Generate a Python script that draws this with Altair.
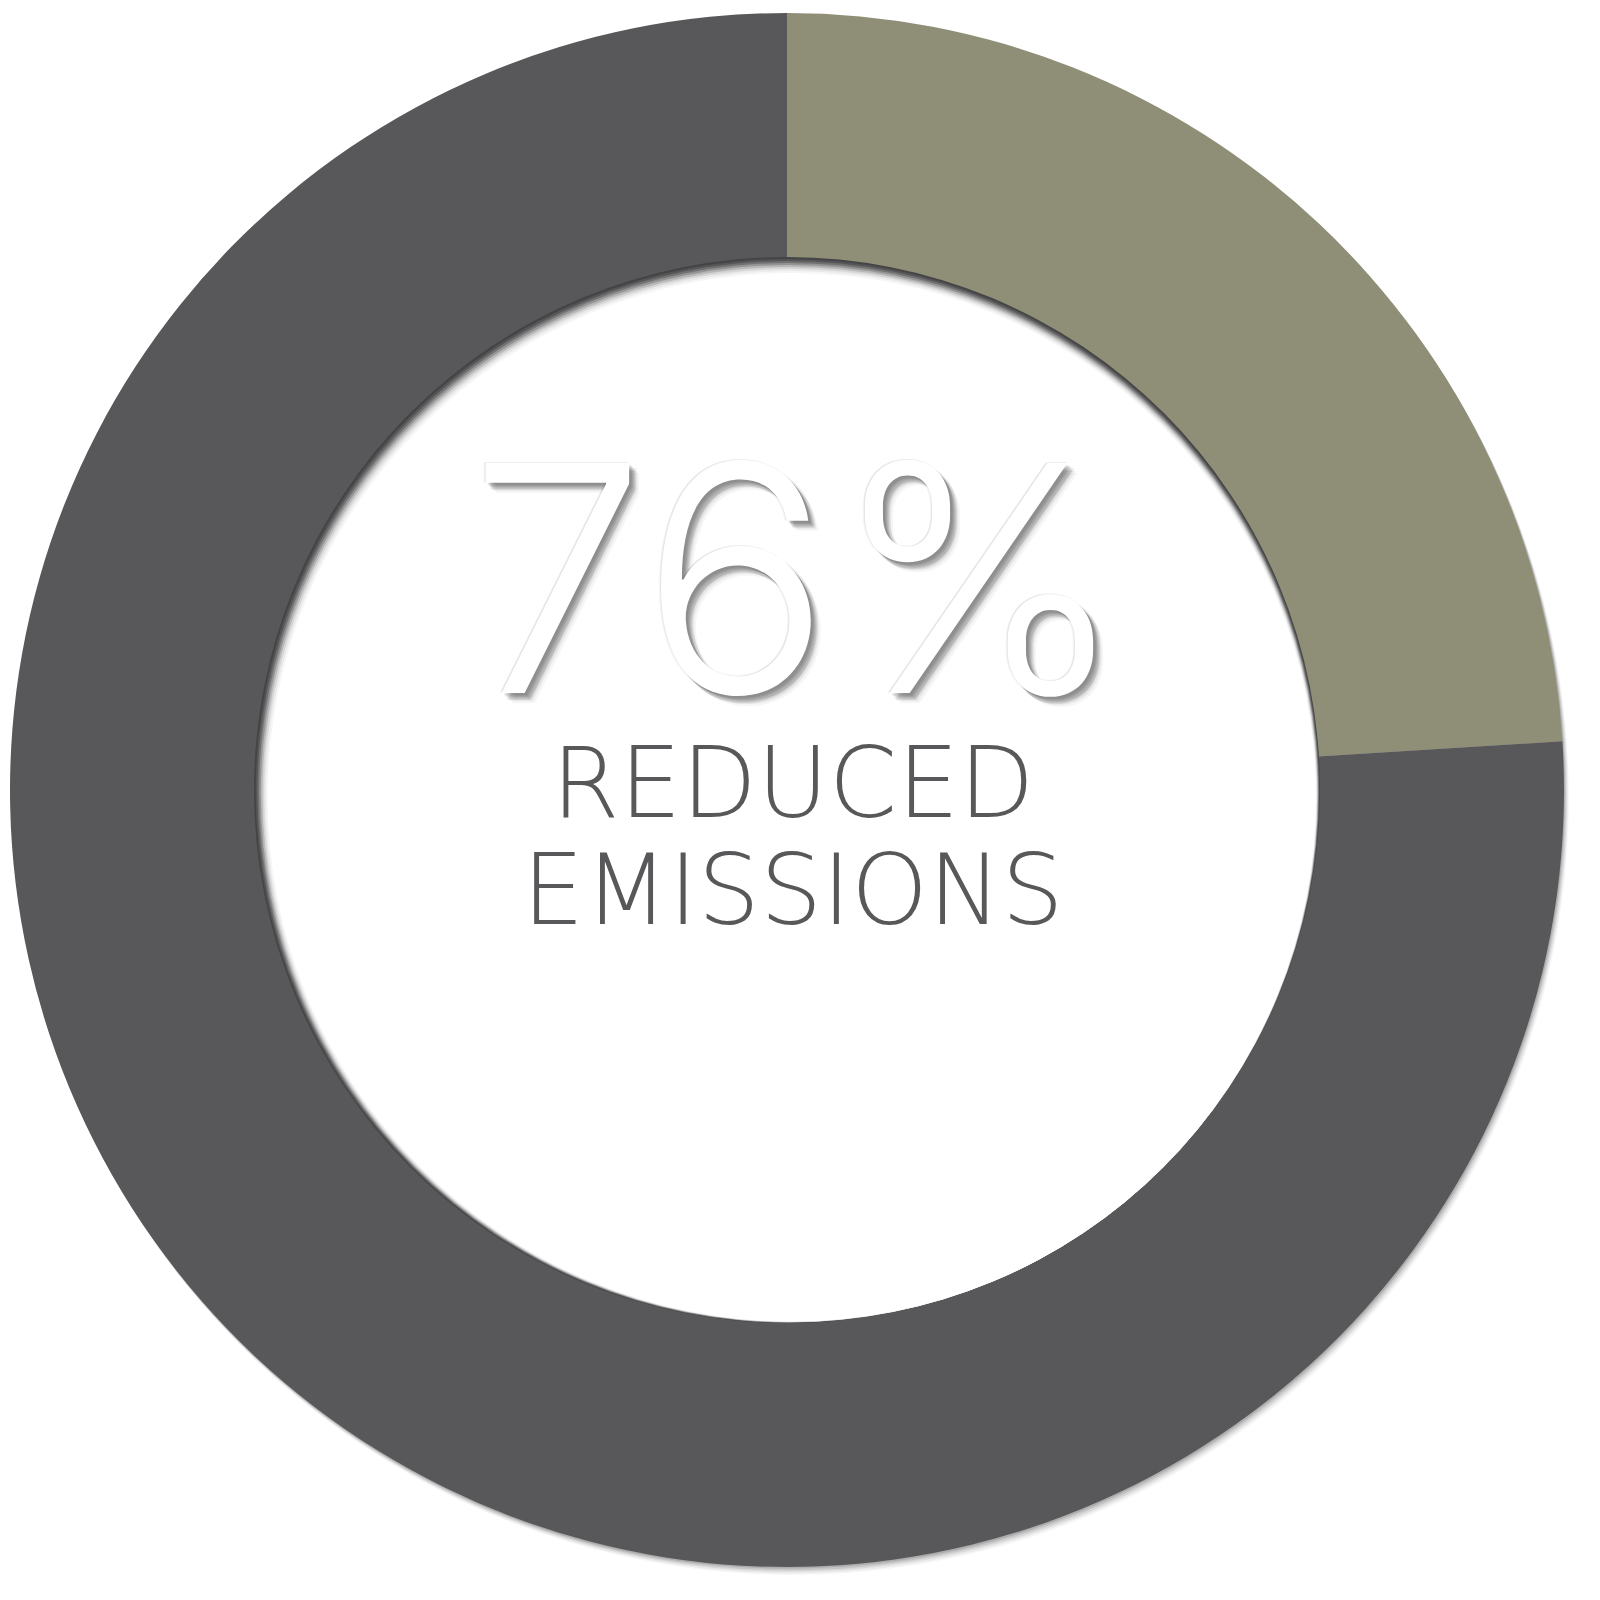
import math
import altair as alt
import pandas as pd

segments = ["Other", "Reduced emissions"]
values = [24, 76]
colors = ["#8f8e76", "#58585a"]
order = [0, 1]

headline = "76%"
label_lines = ["REDUCED", "EMISSIONS"]

df = pd.DataFrame({"segment": segments, "value": values, "order": order})
disc_df = pd.DataFrame({"k": [0]})

CX, CY = 787, 790
R_OUT, R_IN = 777, 533
TAU = 2 * math.pi

color_scale = alt.Scale(domain=segments, range=colors)
base = alt.Chart(df)
disc = alt.Chart(disc_df)

layers = []
# soft outer drop shadow (bottom-right)
for off, op in [(10, 0.03), (8, 0.05), (6, 0.07), (4, 0.09), (2, 0.12)]:
    layers.append(
        disc.mark_arc(outerRadius=R_OUT, innerRadius=0, theta=0, theta2=TAU, color="#000000", opacity=op)
        .encode(x=alt.value(CX + off * 0.5), y=alt.value(CY + off * 0.8))
    )

layers.append(
    base.mark_arc(outerRadius=R_OUT, innerRadius=0).encode(
        theta=alt.Theta("value:Q", stack=True),
        color=alt.Color("segment:N", scale=color_scale, legend=None),
        order="order:Q",
        x=alt.value(CX),
        y=alt.value(CY),
    )
)

# hole with inner shadow (top-left crescent fading to white)
hole_steps = [(0, "#444446"), (2, "#555557"), (4, "#707070"), (6, "#949494"), (8, "#b8b8b8"),
              (10, "#d6d6d6"), (12, "#eaeaea"), (14, "#f6f6f6"), (16, "#ffffff")]
for off, col in hole_steps:
    layers.append(
        disc.mark_arc(outerRadius=R_IN - off * 0.55, innerRadius=0, theta=0, theta2=TAU, color=col)
        .encode(x=alt.value(CX + off * 0.3), y=alt.value(CY + off * 0.45))
    )

txt = pd.DataFrame({"t": [headline]})
HX, HY, HS = 798, 693, 316
for dx, dy, op in [(10, 10, 0.04), (8, 8, 0.07), (6, 7, 0.09), (7, 5, 0.07), (5, 6, 0.09),
                   (4, 4, 0.10), (3, 3, 0.09), (2, 2, 0.07), (-1, -1, 0.07), (-2, 0, 0.04)]:
    layers.append(
        alt.Chart(txt).mark_text(
            font="Inter", fontWeight=300, fontSize=HS, color="#202020", opacity=op,
            align="center", baseline="alphabetic",
        ).encode(text="t:N", x=alt.value(HX + dx), y=alt.value(HY + dy))
    )
layers.append(
    alt.Chart(txt).mark_text(
        font="Inter", fontWeight=300, fontSize=HS, color="#ffffff",
        align="center", baseline="alphabetic",
    ).encode(text="t:N", x=alt.value(HX), y=alt.value(HY))
)

lab = pd.DataFrame({"t": label_lines, "yy": [817, 924]})
layers.append(
    alt.Chart(lab).mark_text(
        font="DejaVu Sans", fontWeight=300, fontSize=98, color="#58585a",
        align="center", baseline="alphabetic",
    ).encode(text="t:N", x=alt.value(793), y=alt.Y("yy:Q", scale=None))
)

chart = alt.layer(*layers).properties(
    width=1600, height=1600, padding=0, autosize="none", background="#ffffff"
).configure_view(stroke=None)

chart.save("out.html", embed_options={"renderer": "svg", "actions": False})
